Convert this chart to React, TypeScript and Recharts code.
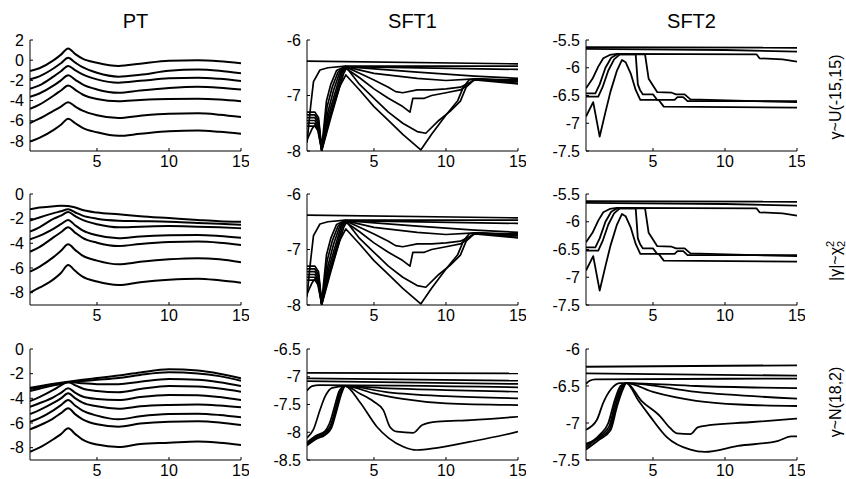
import { LineChart, Line, XAxis, YAxis } from 'recharts'

type Pair = [number, number]

// shared x grid for the smooth PT curves
const PT_X = [0.35, 1, 2, 2.5, 3, 3.5, 4, 5, 6.5, 8, 10, 12, 13.5, 15]

const PT_U = [
  [-1.07, -0.8, 0.0, 0.55, 1.17, 0.6, 0.15, -0.25, -0.57, -0.35, -0.05, 0.0, -0.1, -0.3],
  [-1.9, -1.6, -0.8, -0.3, 0.23, -0.25, -0.7, -1.25, -1.63, -1.45, -1.05, -0.93, -1.05, -1.3],
  [-2.83, -2.5, -1.6, -1.1, -0.57, -1.0, -1.4, -1.9, -2.23, -2.05, -1.8, -1.73, -1.85, -2.07],
  [-3.63, -3.3, -2.5, -2.0, -1.5, -1.95, -2.4, -2.9, -3.23, -3.0, -2.75, -2.63, -2.72, -2.9],
  [-4.83, -4.4, -3.5, -3.0, -2.5, -2.95, -3.4, -3.85, -4.07, -3.95, -3.85, -3.83, -3.9, -4.07],
  [-6.23, -5.8, -5.0, -4.6, -4.17, -4.6, -5.0, -5.45, -5.73, -5.5, -5.3, -5.27, -5.4, -5.63],
  [-8.07, -7.7, -6.9, -6.4, -5.8, -6.25, -6.7, -7.15, -7.5, -7.3, -7.05, -6.97, -7.1, -7.3],
]

const PT_CHI = [
  [-1.24, -1.1, -1.0, -0.95, -0.97, -1.1, -1.3, -1.5, -1.65, -1.8, -1.95, -2.1, -2.2, -2.25],
  [-2.16, -1.9, -1.55, -1.4, -1.24, -1.5, -1.75, -2.0, -2.16, -2.2, -2.25, -2.35, -2.42, -2.5],
  [-3.05, -2.7, -2.0, -1.75, -1.46, -1.8, -2.1, -2.45, -2.7, -2.65, -2.6, -2.65, -2.7, -2.78],
  [-3.68, -3.4, -2.8, -2.45, -2.1, -2.55, -2.95, -3.35, -3.59, -3.45, -3.35, -3.32, -3.4, -3.54],
  [-4.68, -4.3, -3.5, -3.1, -2.7, -3.15, -3.55, -3.95, -4.22, -4.05, -3.9, -3.86, -3.95, -4.14],
  [-6.3, -5.9, -5.1, -4.6, -4.08, -4.55, -5.0, -5.4, -5.7, -5.5, -5.3, -5.21, -5.3, -5.54],
  [-8.0, -7.6, -6.9, -6.4, -5.76, -6.25, -6.7, -7.1, -7.38, -7.15, -6.95, -6.87, -7.0, -7.19],
]

const PT_N = [
  [-3.14, -3.02, -2.82, -2.73, -2.65, -2.57, -2.5, -2.36, -2.15, -1.9, -1.65, -1.75, -2.0, -2.38],
  [-3.25, -3.1, -2.88, -2.79, -2.7, -2.65, -2.6, -2.5, -2.35, -2.1, -1.89, -1.98, -2.2, -2.57],
  [-3.4, -3.22, -2.95, -2.83, -2.7, -2.72, -2.78, -2.85, -2.85, -2.65, -2.43, -2.5, -2.7, -3.0],
  [-4.22, -3.9, -3.3, -2.95, -2.68, -2.95, -3.2, -3.4, -3.5, -3.25, -3.0, -3.05, -3.2, -3.46],
  [-4.68, -4.4, -3.9, -3.55, -3.19, -3.55, -3.85, -4.05, -4.14, -3.9, -3.73, -3.75, -3.9, -4.14],
  [-5.27, -4.95, -4.35, -4.0, -3.59, -4.0, -4.35, -4.65, -4.84, -4.65, -4.54, -4.5, -4.58, -4.73],
  [-5.9, -5.6, -4.95, -4.55, -4.14, -4.6, -5.0, -5.4, -5.7, -5.45, -5.27, -5.25, -5.35, -5.54],
  [-6.51, -6.2, -5.6, -5.2, -4.81, -5.3, -5.7, -6.1, -6.3, -6.05, -5.89, -5.85, -5.95, -6.16],
  [-8.33, -8.0, -7.3, -6.9, -6.43, -6.9, -7.35, -7.75, -7.95, -7.7, -7.6, -7.5, -7.6, -7.78],
]

// SFT1, uniform / chi-square gamma
const SFT1_U: Pair[][] = [
  [[0.35, -6.38], [15, -6.43]],
  [[0.35, -7.85], [0.6, -7.2], [0.8, -6.75], [1.25, -6.54], [1.8, -6.5], [3, -6.47], [15, -6.47]],
  [[0.35, -7.3], [0.9, -7.3], [1.15, -7.4], [1.37, -7.95], [1.7, -7.1], [2.0, -6.8], [2.4, -6.55], [3, -6.48], [15, -6.53]],
  [[0.35, -7.35], [0.9, -7.35], [1.15, -7.45], [1.37, -7.97], [1.75, -7.2], [2.1, -6.85], [2.5, -6.58], [3, -6.48], [8, -6.58], [12, -6.65], [15, -6.69]],
  [[0.35, -7.4], [0.9, -7.4], [1.15, -7.5], [1.37, -7.98], [1.8, -7.3], [2.2, -6.9], [2.6, -6.6], [3, -6.48], [5, -6.6], [8, -6.69], [10, -6.73], [12, -6.7], [15, -6.74]],
  [[0.35, -7.45], [0.9, -7.45], [1.15, -7.55], [1.37, -7.98], [1.85, -7.35], [2.3, -6.95], [2.7, -6.6], [3, -6.48], [4, -6.6], [5, -6.72], [6, -6.85], [6.5, -6.93], [7, -6.95], [8, -6.9], [9, -6.9], [10, -6.88], [11, -6.85], [12, -6.72], [15, -6.79]],
  [[0.35, -7.5], [0.9, -7.5], [1.15, -7.6], [1.37, -7.99], [1.9, -7.4], [2.4, -6.95], [2.8, -6.6], [3, -6.5], [4, -6.68], [5, -6.88], [6, -7.05], [7, -7.2], [7.5, -7.3], [7.7, -7.05], [8.5, -7.05], [9, -7.0], [10, -6.95], [11, -6.9], [11.6, -6.8], [12, -6.7], [15, -6.75]],
  [[0.35, -7.55], [0.9, -7.55], [1.15, -7.65], [1.37, -8.0], [2.0, -7.4], [2.5, -6.95], [2.9, -6.6], [3.1, -6.5], [4, -6.8], [5, -7.05], [6, -7.3], [7, -7.5], [8, -7.65], [8.6, -7.68], [9.5, -7.45], [10.3, -7.28], [11, -7.1], [11.4, -6.85], [12, -6.7], [15, -6.72]],
  [[0.35, -7.8], [0.7, -7.6], [1.0, -7.5], [1.37, -7.98], [2.0, -7.35], [2.6, -6.85], [3.05, -6.63], [4, -6.9], [5, -7.2], [6, -7.45], [7, -7.7], [8.25, -7.98], [9, -7.7], [10, -7.35], [10.8, -7.1], [11.2, -6.85], [11.6, -6.72], [12, -6.7], [15, -6.78]],
]

const SFT2_U: Pair[][] = [
  [[0.35, -5.63], [15, -5.64]],
  [[0.35, -5.66], [10, -5.68], [15, -5.71]],
  [[0.35, -6.37], [0.8, -6.2], [1.2, -5.98], [1.55, -5.83], [2.0, -5.77], [2.5, -5.75], [12.2, -5.76], [12.4, -5.83], [14, -5.85], [15, -5.89]],
  [[0.35, -6.46], [1.0, -6.46], [1.3, -6.3], [1.7, -6.0], [2.1, -5.82], [2.5, -5.76], [3.8, -5.76], [3.95, -6.3], [4.1, -6.4], [4.3, -6.48], [5.0, -6.48], [5.3, -6.58], [6.5, -6.58], [6.7, -6.53], [7.1, -6.53], [7.4, -6.6], [15, -6.6]],
  [[0.35, -6.52], [1.2, -6.52], [1.5, -6.35], [1.9, -6.05], [2.3, -5.85], [2.7, -5.76], [4.45, -5.76], [4.7, -6.2], [5.0, -6.32], [5.3, -6.44], [6.3, -6.45], [6.6, -6.48], [7.2, -6.48], [7.6, -6.57], [15, -6.62]],
  [[0.35, -6.88], [0.85, -6.62], [1.3, -7.24], [1.7, -6.8], [2.05, -6.43], [2.5, -6.05], [2.85, -5.86], [3.1, -5.9], [3.45, -6.1], [3.8, -6.4], [4.12, -6.58], [5.4, -6.58], [5.75, -6.7], [15, -6.72]],
]

const SFT1_CHI = SFT1_U
const SFT2_CHI = SFT2_U

// normal gamma
const SFT1_N: Pair[][] = [
  [[0.35, -6.93], [15, -6.94]],
  [[0.35, -7.03], [15, -7.07]],
  [[0.35, -7.08], [15, -7.13]],
  [[0.35, -7.25], [0.7, -7.17], [1.2, -7.15], [15, -7.19]],
  [[0.35, -8.1], [0.8, -7.95], [1.25, -7.6], [1.6, -7.36], [2.1, -7.2], [3.0, -7.17], [6, -7.21], [10, -7.24], [15, -7.27]],
  [[0.35, -8.2], [1.0, -8.08], [1.6, -8.0], [1.95, -7.9], [2.3, -7.6], [2.65, -7.25], [3.0, -7.17], [6, -7.28], [10, -7.35], [15, -7.39]],
  [[0.35, -8.22], [1.0, -8.1], [1.6, -8.03], [2.0, -7.9], [2.35, -7.6], [2.7, -7.28], [3.0, -7.17], [5, -7.3], [7, -7.4], [10, -7.48], [15, -7.51]],
  [[0.35, -8.18], [1.0, -8.06], [1.6, -7.98], [1.9, -7.85], [2.25, -7.55], [2.6, -7.25], [3.0, -7.17], [4, -7.3], [5, -7.45], [5.65, -7.6], [6.1, -7.9], [6.6, -7.99], [7.73, -8.01], [8.35, -7.87], [9.4, -7.81], [11.7, -7.78], [15, -7.72]],
  [[0.35, -8.24], [1.0, -8.12], [1.6, -8.05], [2.05, -7.92], [2.4, -7.62], [2.75, -7.3], [3.0, -7.17], [4, -7.45], [5.2, -7.9], [6, -8.1], [7.04, -8.26], [7.96, -8.32], [9.4, -8.28], [11.7, -8.17], [14, -8.05], [15, -7.99]],
]

const SFT2_N: Pair[][] = [
  [[0.35, -6.24], [15, -6.22]],
  [[0.35, -6.33], [15, -6.36]],
  [[0.35, -6.47], [0.6, -6.43], [1.0, -6.41], [15, -6.4]],
  [[0.35, -7.09], [1.1, -6.96], [1.56, -6.72], [2.14, -6.53], [2.72, -6.46], [3.15, -6.46], [8, -6.5], [15, -6.53]],
  [[0.35, -7.3], [1.3, -7.16], [1.9, -7.0], [2.35, -6.69], [2.75, -6.5], [3.15, -6.46], [8, -6.58], [15, -6.67]],
  [[0.35, -7.33], [1.3, -7.18], [1.95, -7.05], [2.4, -6.72], [2.8, -6.52], [3.15, -6.46], [5, -6.58], [8, -6.7], [11, -6.75], [15, -6.77]],
  [[0.35, -7.28], [1.3, -7.2], [2.0, -7.08], [2.45, -6.75], [2.85, -6.53], [3.15, -6.46], [4.2, -6.7], [5.5, -6.91], [6.2, -7.07], [6.67, -7.14], [7.6, -7.15], [8.1, -7.06], [8.9, -7.03], [11.7, -6.99], [15, -6.94]],
  [[0.35, -7.36], [1.3, -7.22], [2.05, -7.1], [2.5, -6.78], [2.9, -6.55], [3.15, -6.46], [4.0, -6.7], [4.8, -6.91], [5.96, -7.19], [7.6, -7.36], [8.6, -7.39], [10.9, -7.31], [13.7, -7.24], [14.6, -7.18], [15, -7.18]],
]

const X_TICKS = [5, 10, 15]
const TITLES = ['PT', 'SFT1', 'SFT2']

// plot-area layout
const COL_X = [30, 307, 586]
const ROW_Y = [40, 194, 349]
const PW = 211
const PH = 111
const AXIS_W = 40
const AXIS_H = 26
const PAD = 8
const FONT = '"Liberation Sans", Arial, Helvetica, sans-serif'

const fromGrid = (ys: number[]) => PT_X.map((x, i) => ({ x, y: ys[i] }))
const fromPairs = (p: Pair[]) => p.map(([x, y]) => ({ x, y }))

type PanelProps = {
  col: number
  row: number
  domain: [number, number]
  ticks: number[]
  series: { x: number; y: number }[][]
  curve: 'monotone' | 'linear'
  width: number
}

function Panel({ col, row, domain, ticks, series, curve, width }: PanelProps) {
  const tick = { fill: '#000', fontSize: 16, fontFamily: FONT }
  return (
    <div style={{ position: 'absolute', left: COL_X[col] - AXIS_W, top: ROW_Y[row] - PAD }}>
      <LineChart width={AXIS_W + PW + PAD} height={PAD + PH + AXIS_H}
        margin={{ top: PAD, right: PAD, bottom: 0, left: 0 }}>
        <XAxis type="number" dataKey="x" domain={[0.35, 15]} ticks={X_TICKS} allowDataOverflow interval={0}
          height={AXIS_H} tick={tick} tickSize={-3} tickMargin={8}
          axisLine={{ stroke: '#000' }} tickLine={{ stroke: '#000' }} />
        <YAxis type="number" domain={domain} ticks={ticks} allowDataOverflow interval={0}
          width={AXIS_W} tick={tick} tickSize={-3} tickMargin={9}
          axisLine={{ stroke: '#000' }} tickLine={{ stroke: '#000' }} />
        {series.map((d, i) => (
          <Line key={i} data={d} dataKey="y" type={curve} stroke="#000" strokeWidth={width}
            strokeLinejoin="round" dot={false} activeDot={false} isAnimationActive={false} />
        ))}
      </LineChart>
    </div>
  )
}

export default function App() {
  return (
    <div style={{ position: 'absolute', left: 0, top: 0, width: 846, height: 479, background: '#fff', fontFamily: FONT }}>
      <Panel col={0} row={0} domain={[-9, 2]} ticks={[-8, -6, -4, -2, 0, 2]} series={PT_U.map(fromGrid)} curve="monotone" width={2} />
      <Panel col={1} row={0} domain={[-8, -6]} ticks={[-8, -7, -6]} series={SFT1_U.map(fromPairs)} curve="linear" width={1.7} />
      <Panel col={2} row={0} domain={[-7.5, -5.5]} ticks={[-7.5, -7, -6.5, -6, -5.5]} series={SFT2_U.map(fromPairs)} curve="linear" width={1.8} />

      <Panel col={0} row={1} domain={[-9, 0]} ticks={[-8, -6, -4, -2, 0]} series={PT_CHI.map(fromGrid)} curve="monotone" width={2} />
      <Panel col={1} row={1} domain={[-8, -6]} ticks={[-8, -7, -6]} series={SFT1_CHI.map(fromPairs)} curve="linear" width={1.7} />
      <Panel col={2} row={1} domain={[-7.5, -5.5]} ticks={[-7.5, -7, -6.5, -6, -5.5]} series={SFT2_CHI.map(fromPairs)} curve="linear" width={1.8} />

      <Panel col={0} row={2} domain={[-9, 0]} ticks={[-8, -6, -4, -2, 0]} series={PT_N.map(fromGrid)} curve="monotone" width={2} />
      <Panel col={1} row={2} domain={[-8.5, -6.5]} ticks={[-8.5, -8, -7.5, -7, -6.5]} series={SFT1_N.map(fromPairs)} curve="monotone" width={1.7} />
      <Panel col={2} row={2} domain={[-7.5, -6]} ticks={[-7.5, -7, -6.5, -6]} series={SFT2_N.map(fromPairs)} curve="monotone" width={1.8} />

      <svg width={846} height={479} style={{ position: 'absolute', left: 0, top: 0, pointerEvents: 'none' }}
        fontFamily={FONT} fill="#000">
        {TITLES.map((t, i) => (
          <text key={t} x={COL_X[i] + PW / 2} y={28} fontSize={20} textAnchor="middle">{t}</text>
        ))}
        <text transform="translate(841,97) rotate(-90)" fontSize={16} textAnchor="middle">γ~U(-15,15)</text>
        <text transform="translate(841,281) rotate(-90)" fontSize={16}>
          |γ|~χ<tspan fontSize={11} dy={-7}>2</tspan><tspan fontSize={11} dx={-6.1} dy={11}>2</tspan>
        </text>
        <text transform="translate(841,402) rotate(-90)" fontSize={16} textAnchor="middle">γ~N(18,2)</text>
      </svg>
    </div>
  )
}
